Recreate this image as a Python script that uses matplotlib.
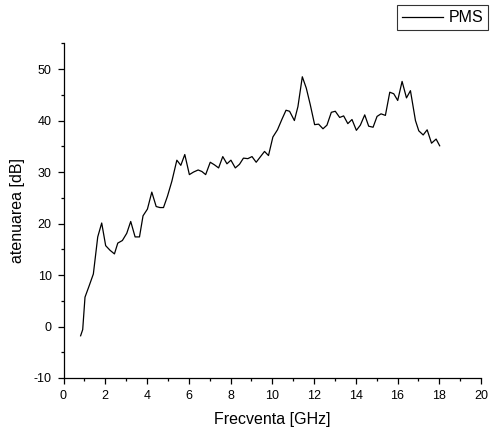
import matplotlib
matplotlib.use("Agg")
import matplotlib.pyplot as plt
from matplotlib.ticker import MultipleLocator

plt.rcParams['font.family'] = ['Liberation Sans', 'DejaVu Sans']
plt.rcParams['axes.unicode_minus'] = False

# frequency [GHz] and attenuation [dB]
freq = [0.82, 0.92, 1.03, 1.22, 1.43, 1.64, 1.83, 2.02, 2.23, 2.44,
        2.60, 2.82, 3.03, 3.22, 3.43, 3.64, 3.81, 4.02, 4.23, 4.44,
        4.62, 4.79, 4.98, 5.19, 5.43, 5.62, 5.81, 6.03, 6.23, 6.45,
        6.63, 6.81, 7.03, 7.23, 7.43, 7.63, 7.83, 8.02, 8.23, 8.43,
        8.62, 8.83, 9.03, 9.23, 9.42, 9.63, 9.82, 10.03, 10.25, 10.47,
        10.66, 10.83, 11.06, 11.23, 11.44, 11.63, 11.82, 12.03, 12.22, 12.43,
        12.62, 12.83, 13.02, 13.23, 13.42, 13.62, 13.82, 14.03, 14.22, 14.43,
        14.62, 14.83, 15.02, 15.21, 15.42, 15.63, 15.82, 16.01, 16.22, 16.43,
        16.62, 16.86, 17.02, 17.23, 17.42, 17.63, 17.85, 18.02]
pms = [-1.8, -0.6, 5.7, 7.8, 10.2, 17.4, 20.1, 15.7, 14.8, 14.1,
       16.2, 16.7, 18.1, 20.4, 17.4, 17.4, 21.5, 22.8, 26.1, 23.3,
       23.1, 23.1, 25.3, 28.2, 32.3, 31.3, 33.4, 29.5, 30.0, 30.4,
       30.1, 29.5, 31.9, 31.4, 30.8, 33.0, 31.6, 32.3, 30.8, 31.5,
       32.7, 32.6, 33.0, 31.9, 32.9, 34.0, 33.2, 36.8, 38.2, 40.3,
       42.0, 41.8, 40.0, 42.7, 48.5, 46.3, 43.1, 39.2, 39.3, 38.4,
       39.1, 41.6, 41.8, 40.6, 40.9, 39.4, 40.2, 38.1, 39.1, 41.1,
       38.9, 38.7, 40.8, 41.3, 41.0, 45.5, 45.2, 43.9, 47.6, 44.4,
       45.8, 40.0, 38.0, 37.2, 38.2, 35.6, 36.4, 35.1]

fig = plt.figure(figsize=(4.94, 4.34), dpi=100)
ax = fig.add_axes([63.5 / 494, 1 - 378 / 434, (481 - 63.5) / 494, (378 - 43.3) / 434])

line, = ax.plot(freq, pms, color='black', linewidth=0.9, label='PMS')

ax.set_xlim(0, 20)
ax.set_ylim(-10, 55)
ax.xaxis.set_major_locator(MultipleLocator(2))
ax.xaxis.set_minor_locator(MultipleLocator(1))
ax.yaxis.set_major_locator(MultipleLocator(10))
ax.yaxis.set_minor_locator(MultipleLocator(5))
ax.tick_params(which='major', direction='out', length=4, width=0.9, labelsize=9, pad=4.5)
ax.tick_params(which='minor', direction='out', length=2.5, width=0.9)

ax.spines['top'].set_visible(False)
ax.spines['right'].set_visible(False)
ax.spines['left'].set_linewidth(0.9)
ax.spines['bottom'].set_linewidth(0.9)

ax.set_xlabel('Frecventa [GHz]', fontsize=11.5, labelpad=7)
ax.set_ylabel('atenuarea [dB]', fontsize=11.5, labelpad=6)

leg = fig.legend(handles=[line], loc='upper left', bbox_to_anchor=(397 / 494, 1 - 5.5 / 434),
                 frameon=True, fancybox=False, edgecolor='black', fontsize=11.5,
                 handlelength=2.6, handletextpad=0.35, borderpad=0.3, borderaxespad=0)
leg.get_frame().set_linewidth(0.8)

fig.savefig('out.png', dpi=100)
